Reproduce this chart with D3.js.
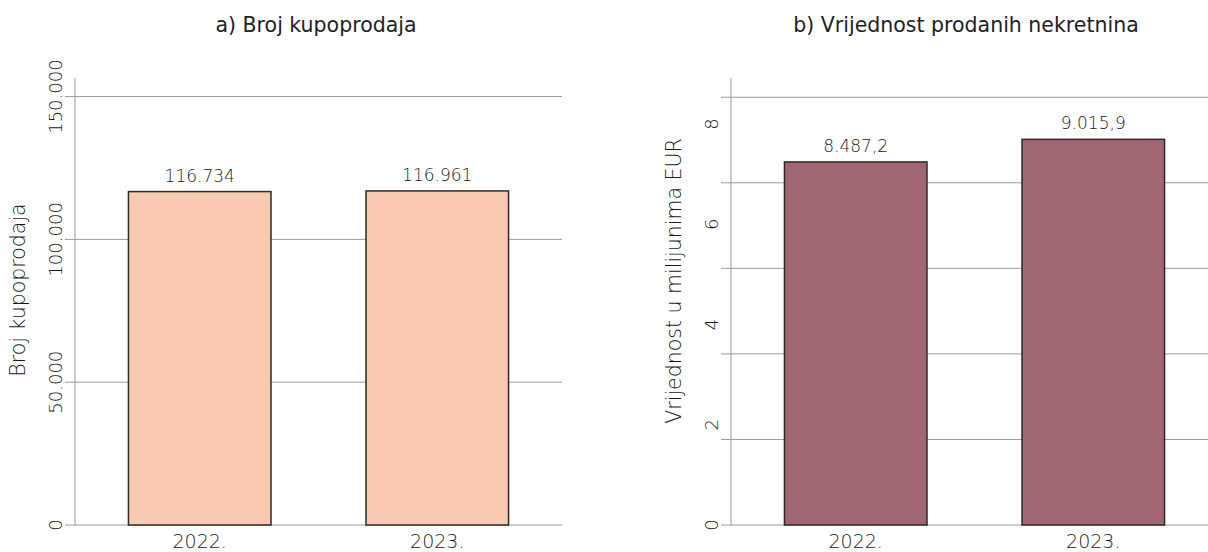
<!DOCTYPE html>
<html>
<head>
<meta charset="utf-8">
<script src="https://cdn.jsdelivr.net/npm/d3@7"></script>
<style>
  body { margin: 0; background: #fff; }
  svg { display: block; font-family: "DejaVu Sans", sans-serif; }
</style>
</head>
<body>
<div id="chart"></div>
<script>
// data
let years = ["2022.", "2023."];
let sales = [116734, 116961];
let salesTicks = [0, 50000, 100000, 150000];
let valueEur = [8487.2, 9015.9];          // millions EUR
let valueGrid = [0, 2000, 4000, 6000, 8000, 10000];
let valueTickLabels = [0, 2, 4, 6, 8];

let svg = d3.select("#chart").append("svg")
    .attr("width", 1208)
    .attr("height", 552);

// plot area shared by both panels
let plotTop = 78, plotBottom = 525, plotW = 487;

let fmtInt = d3.formatLocale({decimal: ",", thousands: ".", grouping: [3], currency: ["", ""]});

function panel(opts) {
    let g = svg.append("g");
    let x = d3.scaleBand()
        .domain(years)
        .range([opts.left, opts.left + plotW])
        .paddingInner(0.4)
        .paddingOuter(0.225);
    let y = d3.scaleLinear()
        .domain([0, opts.max])
        .range([plotBottom, plotTop]);

    // gridlines + tick marks
    g.selectAll(".grid")
        .data(opts.grid)
        .enter().append("line")
        .attr("x1", opts.left - 10)
        .attr("x2", opts.left + plotW)
        .attr("y1", d => y(d))
        .attr("y2", d => y(d))
        .attr("stroke", "#9a9a9a")
        .attr("stroke-width", 1);

    // y axis line
    g.append("line")
        .attr("x1", opts.left).attr("x2", opts.left)
        .attr("y1", plotTop).attr("y2", plotBottom)
        .attr("stroke", "#9a9a9a");

    // tick labels (rotated)
    let ly = opts.labelScale || y;
    g.selectAll(".tl")
        .data(opts.ticks)
        .enter().append("text")
        .attr("transform", d => "translate(" + (opts.left - 13) + "," + ly(d) + ") rotate(-90)")
        .attr("text-anchor", "middle")
        .attr("font-size", 18)
        .attr("font-weight", 200)
        .attr("fill", "#1a1a1a")
        .text(opts.tickFmt);

    // bars
    g.selectAll(".bar")
        .data(opts.values)
        .enter().append("rect")
        .attr("x", (d, i) => x(years[i]))
        .attr("width", x.bandwidth())
        .attr("y", d => y(d))
        .attr("height", d => plotBottom - y(d))
        .attr("fill", opts.color)
        .attr("stroke", "#2a2a2a")
        .attr("stroke-width", 1.5);

    // value labels
    g.selectAll(".val")
        .data(opts.values)
        .enter().append("text")
        .attr("x", (d, i) => x(years[i]) + x.bandwidth() / 2)
        .attr("y", d => y(d) - 10)
        .attr("text-anchor", "middle")
        .attr("font-size", 17)
        .attr("font-weight", 200)
        .attr("fill", "#1a1a1a")
        .text(opts.valFmt);

    // x labels
    g.selectAll(".xl")
        .data(years)
        .enter().append("text")
        .attr("x", d => x(d) + x.bandwidth() / 2)
        .attr("y", plotBottom + 23)
        .attr("text-anchor", "middle")
        .attr("font-size", 19)
        .attr("font-weight", 200)
        .attr("fill", "#1a1a1a")
        .text(d => d);

    // title
    g.append("text")
        .attr("x", opts.titleX)
        .attr("y", 32)
        .attr("text-anchor", "middle")
        .attr("font-size", 20.5)
        .attr("font-weight", 400)
        .attr("fill", "#222")
        .text(opts.title);

    // y axis title
    g.append("text")
        .attr("transform", "translate(" + opts.yTitleX + "," + opts.yTitleY + ") rotate(-90)")
        .attr("text-anchor", "middle")
        .attr("font-size", 20.5)
        .attr("font-weight", 200)
        .attr("fill", "#1a1a1a")
        .text(opts.yTitle);
}

panel({
    left: 75,
    max: 156500,
    grid: salesTicks,
    ticks: salesTicks,
    tickFmt: d => fmtInt.format(",")(d),
    values: sales,
    valFmt: d => fmtInt.format(",")(d),
    color: "#f9cab0",
    title: "a) Broj kupoprodaja",
    titleX: 316,
    yTitle: "Broj kupoprodaja",
    yTitleX: 25,
    yTitleY: 290
});

panel({
    left: 731,
    max: 10450,
    grid: valueGrid,
    ticks: valueTickLabels,
    labelScale: d3.scaleLinear().domain([0, 8.92]).range([plotBottom, plotTop]),
    tickFmt: d => d,
    values: valueEur,
    valFmt: d => fmtInt.format(",.1f")(d),
    color: "#a06672",
    title: "b) Vrijednost prodanih nekretnina",
    titleX: 966,
    yTitle: "Vrijednost u milijunima EUR",
    yTitleX: 681,
    yTitleY: 281
});
</script>
</body>
</html>
